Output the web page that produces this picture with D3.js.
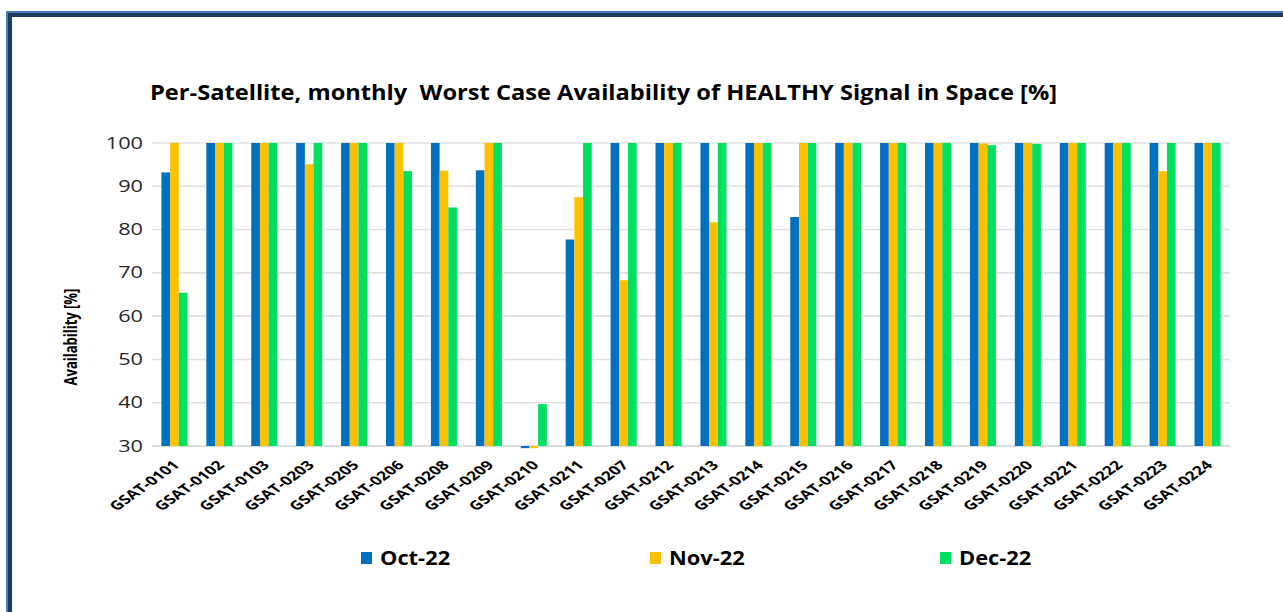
<!DOCTYPE html>
<html>
<head>
<meta charset="utf-8">
<script src="https://cdn.jsdelivr.net/npm/d3@7"></script>
<style>
  html, body { margin: 0; padding: 0; background: #fff; }
  svg { display: block; }
  text { font-family: "Open Sans", "DejaVu Sans", sans-serif; }
</style>
</head>
<body>
<script>
const categories = ["GSAT-0101","GSAT-0102","GSAT-0103","GSAT-0203","GSAT-0205","GSAT-0206","GSAT-0208","GSAT-0209","GSAT-0210","GSAT-0211","GSAT-0207","GSAT-0212","GSAT-0213","GSAT-0214","GSAT-0215","GSAT-0216","GSAT-0217","GSAT-0218","GSAT-0219","GSAT-0220","GSAT-0221","GSAT-0222","GSAT-0223","GSAT-0224"];
const oct22 = [93.2,100,100,100,100,100,100,93.7,29.5,77.7,100,100,100,100,82.9,100,100,100,100,100,100,100,100,100];
const nov22 = [100,100,100,95.1,100,100,93.6,100,29.5,87.5,68.3,100,81.7,100,100,100,100,100,99.9,100,100,100,93.5,100];
const dec22 = [65.4,100,100,100,100,93.5,85.1,100,39.7,100,100,100,100,100,100,100,100,100,99.5,99.8,100,100,100,100];
const seriesNames = ["Oct-22","Nov-22","Dec-22"];
const seriesColors = ["#0070C0","#FFC000","#00E060"];
const yTicks = [30,40,50,60,70,80,90,100];
const titleText = "Per-Satellite, monthly  Worst Case Availability of HEALTHY Signal in Space [%]";
const yAxisTitle = "Availability [%]";

const W = 1283, H = 612;
const SX = 1.4; // horizontal stretch seen in the reference text
const plot = {left: 152, right: 1230, top: 143, bottom: 446};

const svg = d3.select("body").append("svg").attr("width", W).attr("height", H);
svg.append("rect").attr("width", W).attr("height", H).attr("fill", "#fff");

// frame
svg.append("line").attr("x1", 6).attr("x2", W).attr("y1", 12).attr("y2", 12).attr("stroke", "#4A7EBB").attr("stroke-width", 2);
svg.append("line").attr("x1", 8).attr("x2", W).attr("y1", 15).attr("y2", 15).attr("stroke", "#1F3B5C").attr("stroke-width", 4);
svg.append("line").attr("x1", 7).attr("x2", 7).attr("y1", 11).attr("y2", H).attr("stroke", "#4A7EBB").attr("stroke-width", 2);
svg.append("line").attr("x1", 10).attr("x2", 10).attr("y1", 13).attr("y2", H).attr("stroke", "#1F3B5C").attr("stroke-width", 4);

const x0 = d3.scaleBand().domain(categories).range([plot.left, plot.right]).paddingInner(0.42).paddingOuter(0.21);
const x1 = d3.scaleBand().domain(seriesNames).range([0, x0.bandwidth()]).padding(0);
const y = d3.scaleLinear().domain([30, 100]).range([plot.bottom, plot.top]);

// gridlines
svg.append("g").selectAll("line").data(yTicks).join("line")
  .attr("x1", plot.left).attr("x2", plot.right)
  .attr("y1", d => y(d)).attr("y2", d => y(d))
  .attr("stroke", d => d === 30 ? "#D0D0D0" : "#E0E0E0").attr("stroke-width", 1.6);

// y tick labels
const yl = svg.append("g").selectAll("text").data(yTicks).join("text")
  .attr("x", 143).attr("y", d => y(d) + 5.5)
  .attr("text-anchor", "end").attr("font-size", 15.5).attr("fill", "#262626")
  .text(d => d);
yl.each(function() {
  const w = this.getComputedTextLength();
  d3.select(this).attr("textLength", w * SX).attr("lengthAdjust", "spacingAndGlyphs");
});

// bars
const series = [oct22, nov22, dec22];
const groups = svg.append("g").selectAll("g").data(categories).join("g")
  .attr("transform", d => `translate(${x0(d)},0)`);
groups.selectAll("rect").data((c, i) => series.map((s, k) => ({name: seriesNames[k], v: s[i], color: seriesColors[k]})))
  .join("rect")
  .attr("x", d => x1(d.name))
  .attr("width", x1.bandwidth())
  .attr("y", d => Math.min(y(d.v), y(30)))
  .attr("height", d => Math.abs(y(30) - y(d.v)))
  .attr("fill", d => d.color);

// x labels
svg.append("g").selectAll("g").data(categories).join("g")
  .attr("transform", d => `translate(${x0(d) + x0.bandwidth()/2 + 6},466) scale(${SX},1) rotate(-45)`)
  .append("text")
  .attr("text-anchor", "end").attr("font-size", 12.5).attr("font-weight", "bold").attr("fill", "#000")
  .text(d => d);

// title
const t = svg.append("text").attr("x", 150).attr("y", 100)
  .attr("font-size", 21).attr("font-weight", "bold").attr("fill", "#000")
  .style("white-space", "pre").text(titleText);
t.attr("textLength", 907).attr("lengthAdjust", "spacingAndGlyphs");

// y axis title
svg.append("g").attr("transform", `translate(77,337) scale(${SX},1) rotate(-90)`)
  .append("text").attr("text-anchor", "middle").attr("font-size", 13).attr("font-weight", "bold").attr("fill", "#000")
  .text(yAxisTitle);

// legend
const legendX = [361, 650, 940];
const lg = svg.append("g").selectAll("g").data(seriesNames).join("g")
  .attr("transform", (d, i) => `translate(${legendX[i]},552)`);
lg.append("rect").attr("width", 11).attr("height", 12).attr("fill", (d, i) => seriesColors[i]);
lg.append("text").attr("x", 19).attr("y", 13).attr("font-size", 19).attr("font-weight", "bold").attr("fill", "#000")
  .text(d => d)
  .each(function() {
    const w = this.getComputedTextLength();
    d3.select(this).attr("textLength", w * 1.15).attr("lengthAdjust", "spacingAndGlyphs");
  });
</script>
</body>
</html>
